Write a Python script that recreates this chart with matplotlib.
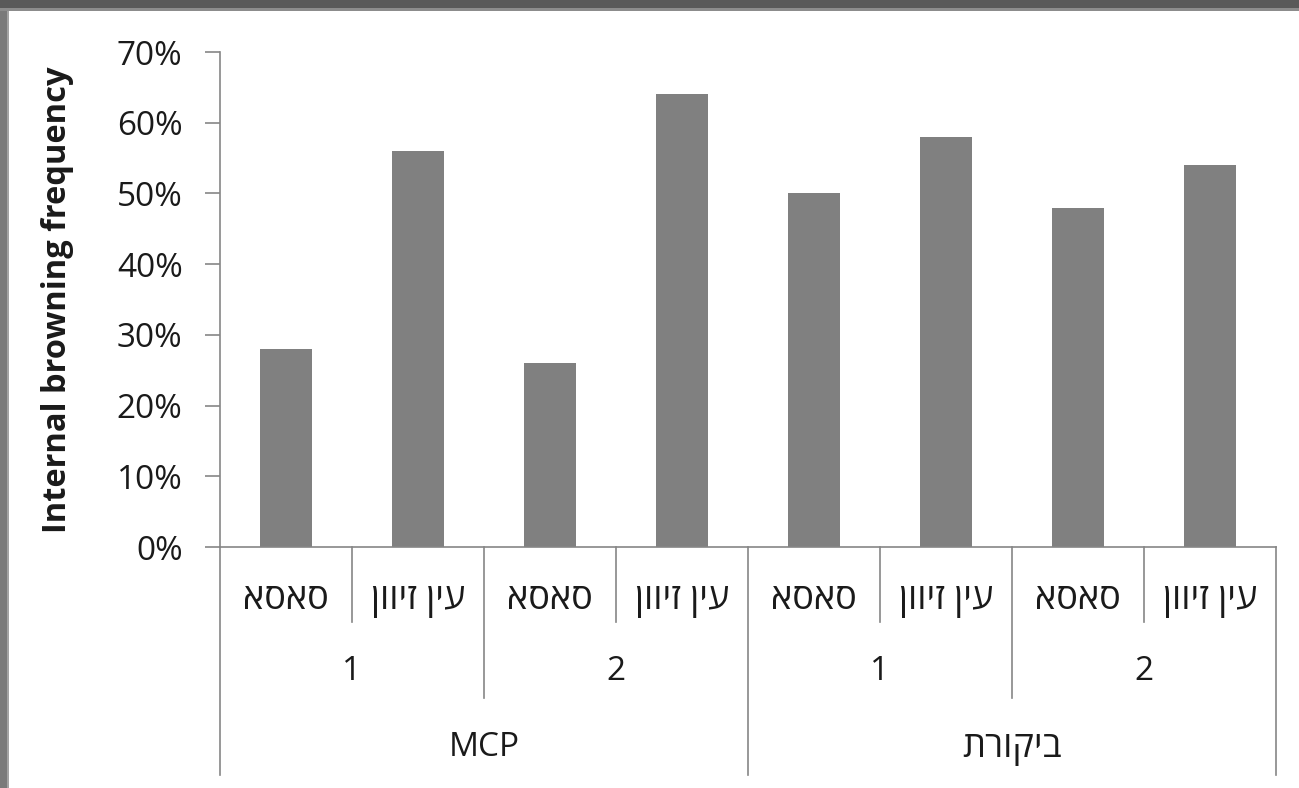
import matplotlib
matplotlib.use("Agg")
import matplotlib.pyplot as plt
from matplotlib.patches import Rectangle
from matplotlib.ticker import PercentFormatter
import matplotlib.transforms as mtransforms

plt.rcParams['font.family'] = ['Open Sans', 'DejaVu Sans']

# ---- data ----
groups = ['MCP', 'ביקורת']
subgroups = ['1', '2']
cultivars = ['סאסא', 'עין זיוון']
values = [28, 56, 26, 64, 50, 58, 48, 54]
yticks = [0, 10, 20, 30, 40, 50, 60, 70]
ylabel = 'Internal browning frequency'


def is_heb(s):
    return any('\u0590' <= c <= '\u05FF' for c in s)


def vis(s):
    # matplotlib has no bidi support: reverse Hebrew strings for visual order
    return s[::-1] if is_heb(s) else s


W, H = 1299, 788
fig = plt.figure(figsize=(W / 100, H / 100), dpi=100)
fig.patch.set_facecolor('white')

# frame bands
fig.patches.append(Rectangle((0, 0), 9 / W, 1, transform=fig.transFigure,
                             facecolor='#a3a3a3', edgecolor='none', zorder=0))
fig.patches.append(Rectangle((0, 0), 7 / W, 1, transform=fig.transFigure,
                             facecolor='#7a7a7a', edgecolor='none', zorder=0))
fig.patches.append(Rectangle((0, 1 - 11 / H), 1, 11 / H, transform=fig.transFigure,
                             facecolor='#8c8c8c', edgecolor='none', zorder=0))
fig.patches.append(Rectangle((0, 1 - 8 / H), 1, 8 / H, transform=fig.transFigure,
                             facecolor='#595959', edgecolor='none', zorder=0))

ax_l, ax_r, ax_t, ax_b = 220, 1276, 52, 547
ax = fig.add_axes([ax_l / W, 1 - ax_b / H, (ax_r - ax_l) / W, (ax_b - ax_t) / H])

n = len(values)
x = list(range(n))
ax.bar(x, values, width=0.4, color='#808080', zorder=2)
ax.set_xlim(-0.5, n - 0.5)
ax.set_ylim(0, 70)
ax.set_yticks(yticks)
ax.yaxis.set_major_formatter(PercentFormatter(decimals=0))
ax.set_xticks([])

axis_col = '#868686'
txt_col = '#1a1a1a'
for s in ['top', 'right']:
    ax.spines[s].set_visible(False)
for s in ['left', 'bottom']:
    ax.spines[s].set_color(axis_col)
    ax.spines[s].set_linewidth(1.2)
ax.tick_params(axis='y', direction='out', length=11, width=1.2, color=axis_col,
               labelsize=24, pad=16, labelcolor=txt_col)

ax.set_ylabel(ylabel, fontsize=23.5, fontweight='bold', labelpad=31, color=txt_col)

ah = ax_b - ax_t
trans = mtransforms.blended_transform_factory(ax.transData, ax.transAxes)

# level lines
lvl1 = -75 / ah
lvl2 = -151 / ah
lvl3 = -228 / ah
nsub = len(subgroups)
ncul = len(cultivars)
for i in range(n + 1):
    xb = i - 0.5
    if i % (nsub * ncul) == 0:
        y_end = lvl3
    elif i % ncul == 0:
        y_end = lvl2
    else:
        y_end = lvl1
    ax.plot([xb, xb], [0, y_end], transform=trans, color=axis_col, lw=1.2,
            clip_on=False, zorder=1)


def label(xp, yp, s):
    fs = 26 if is_heb(s) else 24
    ax.text(xp, yp, vis(s), transform=trans, ha='center', va='center',
            fontsize=fs, color=txt_col)


y1 = -53 / ah
y2 = -125 / ah
y3 = -201 / ah
k = 0
for gi, g in enumerate(groups):
    for si, sname in enumerate(subgroups):
        for ci, c in enumerate(cultivars):
            label(k, y1, c)
            k += 1
        cx = gi * nsub * ncul + si * ncul + (ncul - 1) / 2
        label(cx, y2, sname)
    gx = gi * nsub * ncul + (nsub * ncul - 1) / 2
    label(gx, y3, g)

fig.savefig('out.png', dpi=100, facecolor='white')
